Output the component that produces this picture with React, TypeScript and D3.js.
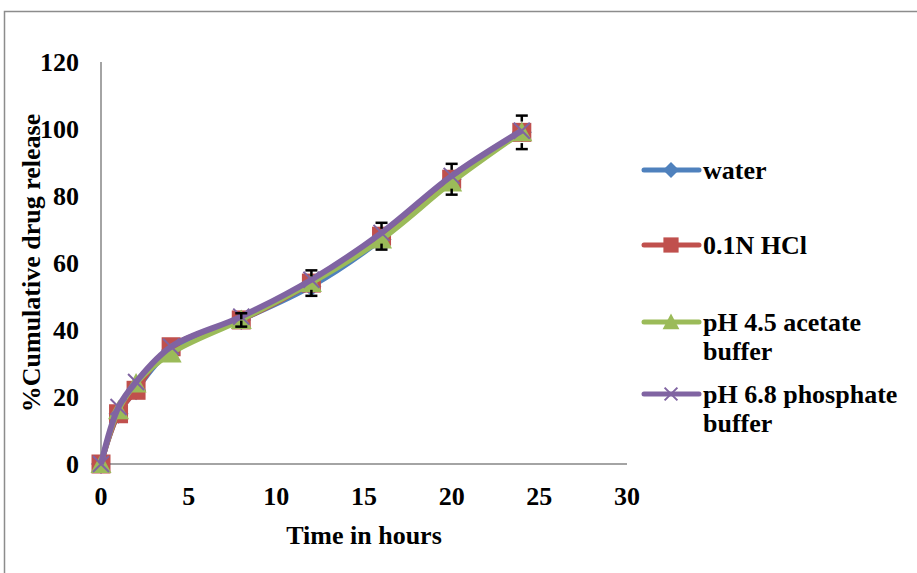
import React from "react";
import * as d3 from "d3";

const times = [0, 1, 2, 4, 8, 12, 16, 20, 24];
const water = [0, 15, 22, 34, 43, 53, 67, 85, 99];
const hcl = [0, 15, 22, 35, 43, 54, 68, 85, 99];
const acetate = [0, 16, 24, 33, 43, 54, 67, 84, 99];
const phosphate = [0, 17, 24.5, 35, 44, 55, 69, 86, 99.5];
const errHcl = [0, 1, 1, 1, 2, 3.8, 4, 4.6, 5];
const xTicks = [0, 5, 10, 15, 20, 25, 30];
const yTicks = [0, 20, 40, 60, 80, 100, 120];

const seriesNames = ["water", "0.1N HCl", "pH 4.5 acetate buffer", "pH 6.8 phosphate buffer"];
const seriesColors = ["#4F81BD", "#C0504D", "#9BBB59", "#8064A2"];
const seriesMarkers = ["diamond", "square", "triangle", "x"];

const W = 917, H = 573;
const x = d3.scaleLinear().domain([0, 30]).range([101, 627]);
const y = d3.scaleLinear().domain([0, 120]).range([464, 62]);
const FONT = "'Liberation Serif', 'Times New Roman', serif";
const FS = 26;

function Marker({ kind, cx, cy, color, small }: { kind: string; cx: number; cy: number; color: string; small?: boolean }) {
  const k = small ? 0.8 : 1;
  if (kind === "diamond") {
    const s = 10 * k;
    return <path d={`M${cx},${cy - s}L${cx + s},${cy}L${cx},${cy + s}L${cx - s},${cy}Z`} fill={color} />;
  }
  if (kind === "square") {
    const s = 9.5 * k;
    return <rect x={cx - s} y={cy - s} width={2 * s} height={2 * s} fill={color} />;
  }
  if (kind === "triangle") {
    const s = 10.5 * k;
    return <path d={`M${cx},${cy - s}L${cx + s},${cy + s * 0.85}L${cx - s},${cy + s * 0.85}Z`} fill={color} />;
  }
  const s = 8 * k;
  return (
    <path
      d={`M${cx - s},${cy - s}L${cx + s},${cy + s}M${cx + s},${cy - s}L${cx - s},${cy + s}`}
      stroke={color}
      strokeWidth={2}
      fill="none"
    />
  );
}

export default function App() {
  const data = [water, hcl, acetate, phosphate];
  const line = d3
    .line<number>()
    .x((_, i) => x(times[i]))
    .y((v) => y(v))
    .curve(d3.curveCatmullRom.alpha(0.5));

  const legendY = [170, 245, 322, 394];

  return (
    <svg
      width={W}
      height={H}
      style={{ position: "absolute", left: 0, top: 0, background: "#fff" }}
      fontFamily={FONT}
    >
      <rect x={0} y={0} width={W} height={H} fill="#fff" />
      <rect x={4.5} y={11.5} width={W + 10} height={H + 10} fill="none" stroke="#8c8c8c" strokeWidth={1.5} />

      {/* axes */}
      <line x1={x(0)} x2={x(0)} y1={y(0)} y2={y(120)} stroke="#868686" strokeWidth={1.5} />
      <line x1={x(0)} x2={x(30)} y1={y(0)} y2={y(0)} stroke="#868686" strokeWidth={1.5} />

      {yTicks.map((t) => (
        <text
          key={"y" + t}
          x={79}
          y={y(t)}
          textAnchor="end"
          dominantBaseline="central"
          fontSize={FS}
          fontWeight="bold"
        >
          {t}
        </text>
      ))}
      {xTicks.map((t) => (
        <text
          key={"x" + t}
          x={x(t)}
          y={496}
          textAnchor="middle"
          dominantBaseline="central"
          fontSize={FS}
          fontWeight="bold"
        >
          {t}
        </text>
      ))}

      <text x={364} y={535} textAnchor="middle" dominantBaseline="central" fontSize={FS} fontWeight="bold">
        Time in hours
      </text>
      <text
        transform={`translate(31,263) rotate(-90)`}
        textAnchor="middle"
        dominantBaseline="central"
        fontSize={FS}
        fontWeight="bold"
      >
        %Cumulative drug release
      </text>

      {/* series */}
      {data.map((vals, si) => (
        <g key={"s" + si}>
          <path d={line(vals) || ""} fill="none" stroke={seriesColors[si]} strokeWidth={si === 3 ? 6 : 5} strokeLinejoin="round" />
          {vals.map((v, i) => (
            <Marker key={i} kind={seriesMarkers[si]} cx={x(times[i])} cy={y(v)} color={seriesColors[si]} />
          ))}
        </g>
      ))}

      {/* error bars */}
      {hcl.map((v, i) =>
        errHcl[i] > 1.2 ? (
          <g key={"e" + i} stroke="#000" strokeWidth={2.5}>
            <line x1={x(times[i])} x2={x(times[i])} y1={y(v + errHcl[i])} y2={y(v + errHcl[i]) + 6} />
            <line x1={x(times[i])} x2={x(times[i])} y1={y(v - errHcl[i])} y2={y(v - errHcl[i]) - 6} />
            <line x1={x(times[i]) - 6} x2={x(times[i]) + 6} y1={y(v + errHcl[i])} y2={y(v + errHcl[i])} />
            <line x1={x(times[i]) - 6} x2={x(times[i]) + 6} y1={y(v - errHcl[i])} y2={y(v - errHcl[i])} />
          </g>
        ) : null
      )}

      {/* legend */}
      {seriesNames.map((name, i) => {
        const ly = legendY[i];
        const words = name.split(" ");
        const lines =
          i >= 2 ? [words.slice(0, words.length - 1).join(" "), words[words.length - 1]] : [name];
        return (
          <g key={"l" + i}>
            <line x1={644} x2={699} y1={ly} y2={ly} stroke={seriesColors[i]} strokeWidth={5} strokeLinecap="round" />
            <Marker kind={seriesMarkers[i]} cx={671} cy={ly} color={seriesColors[i]} small />
            {lines.map((t, k) => (
              <text
                key={k}
                x={703}
                y={ly + k * 29}
                dominantBaseline="central"
                fontSize={FS}
                fontWeight="bold"
              >
                {t}
              </text>
            ))}
          </g>
        );
      })}
    </svg>
  );
}
